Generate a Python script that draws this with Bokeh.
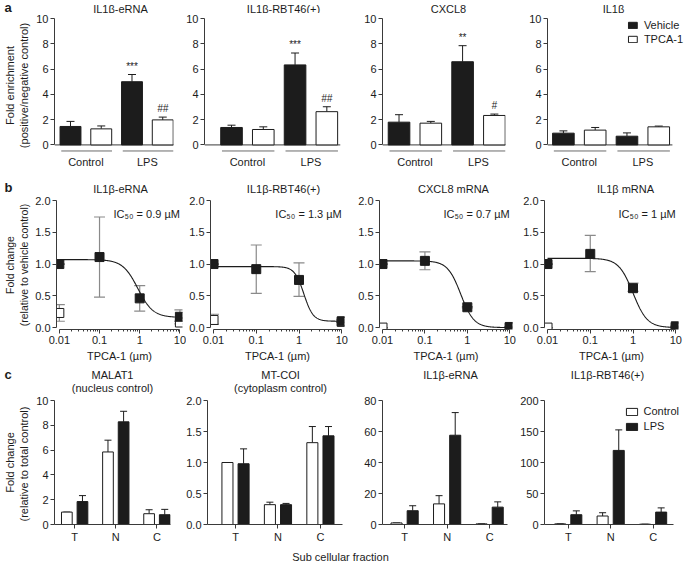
import numpy as np
from bokeh.plotting import figure
from bokeh.layouts import column, row
from bokeh.models import (Range1d, FixedTicker, Whisker, TeeHead, ColumnDataSource,
                          Label, Legend, LegendItem, PrintfTickFormatter)
from bokeh.core.properties import value
from bokeh.embed import file_html
from bokeh.resources import INLINE

FONT = "Liberation Sans"
INK = "#1c1c1c"
AXC = "#3a3a3a"
ERRB = "#8a8a8a"
PAGE_W = 684

# ----------------------------- data : panel a -----------------------------
a_titles = ["IL1β-eRNA", "IL1β-RBT46(+)", "CXCL8", "IL1β"]
a_groups = ["Control", "LPS"]
a_series = ["Vehicle", "TPCA-1"]
a_yticks = [0, 2, 4, 6, 8, 10]

a1_vehicle = [1.46, 5.00]
a1_vehicle_err = [1.86, 5.57]
a1_tpca = [1.27, 1.98]
a1_tpca_err = [1.50, 2.20]
a1_vehicle_sig = ["", "***"]
a1_tpca_sig = ["", "##"]

a2_vehicle = [1.38, 6.33]
a2_vehicle_err = [1.56, 7.27]
a2_tpca = [1.22, 2.63]
a2_tpca_err = [1.43, 3.02]
a2_vehicle_sig = ["", "***"]
a2_tpca_sig = ["", "##"]

a3_vehicle = [1.80, 6.58]
a3_vehicle_err = [2.39, 7.85]
a3_tpca = [1.72, 2.33]
a3_tpca_err = [1.86, 2.44]
a3_vehicle_sig = ["", "**"]
a3_tpca_sig = ["", "#"]

a4_vehicle = [0.93, 0.69]
a4_vehicle_err = [1.11, 0.95]
a4_tpca = [1.17, 1.43]
a4_tpca_err = [1.38, 1.49]
a4_vehicle_sig = ["", ""]
a4_tpca_sig = ["", ""]

# ----------------------------- data : panel b -----------------------------
b_titles = ["IL1β-eRNA", "IL1β-RBT46(+)", "CXCL8 mRNA", "IL1β mRNA"]
b_doses = [0.01, 0.1, 1, 10]
b_ctrl_doses = [0.01, 10]
b_xticks = [0.01, 0.1, 1, 10]
b_xtick_labels = ["0.01", "0.1", "1", "10"]
b_yticks = [0.0, 0.5, 1.0, 1.5, 2.0]

b1_lps = [1.00, 1.11, 0.46, 0.17]
b1_lps_lo = [1.00, 0.48, 0.26, 0.10]
b1_lps_hi = [1.00, 1.74, 0.66, 0.28]
b1_ctrl = [0.23, 0.08]
b1_ctrl_lo = [0.10, 0.06]
b1_ctrl_hi = [0.36, 0.10]

b2_lps = [1.00, 0.92, 0.75, 0.10]
b2_lps_lo = [1.00, 0.54, 0.49, 0.08]
b2_lps_hi = [1.00, 1.30, 1.02, 0.12]
b2_ctrl = [0.12, 0.09]
b2_ctrl_lo = [0.05, 0.08]
b2_ctrl_hi = [0.21, 0.10]

b3_lps = [1.00, 1.05, 0.32, 0.01]
b3_lps_lo = [1.00, 0.91, 0.31, 0.01]
b3_lps_hi = [1.00, 1.19, 0.33, 0.01]
b3_ctrl = [0.00, 0.00]
b3_ctrl_lo = [0.00, 0.00]
b3_ctrl_hi = [0.00, 0.00]

b4_lps = [1.00, 1.16, 0.62, 0.02]
b4_lps_lo = [1.00, 0.88, 0.57, 0.02]
b4_lps_hi = [1.00, 1.45, 0.70, 0.02]
b4_ctrl = [0.00, 0.00]
b4_ctrl_lo = [0.00, 0.00]
b4_ctrl_hi = [0.00, 0.00]

# dose-response fit parameters (IC50 as printed in each panel)
b_fit_top = [1.07, 0.96, 1.05, 1.09]
b_fit_bottom = [0.16, 0.10, 0.00, 0.00]
b_fit_ic50 = [0.9, 1.3, 0.7, 1.0]
b_fit_hill = [2.3, 4.0, 2.8, 2.6]
b_ic50_text = ["0.9", "1.3", "0.7", "1"]

# ----------------------------- data : panel c -----------------------------
c_titles = ["MALAT1", "MT-COI", "IL1β-eRNA", "IL1β-RBT46(+)"]
c_subtitles = ["(nucleus control)", "(cytoplasm control)", "", ""]
c_fractions = ["T", "N", "C"]
c_series = ["Control", "LPS"]

c1_control = [1.00, 5.85, 0.87]
c1_control_err = [1.00, 6.80, 1.19]
c1_lps = [1.85, 8.28, 0.79]
c1_lps_err = [2.33, 9.13, 1.22]
c1_yticks = [0, 2, 4, 6, 8, 10]

c2_control = [1.00, 0.32, 1.32]
c2_control_err = [1.00, 0.36, 1.58]
c2_lps = [0.98, 0.32, 1.43]
c2_lps_err = [1.22, 0.34, 1.58]
c2_yticks = [0.0, 0.5, 1.0, 1.5, 2.0]

c3_control = [1.0, 13.3, 0.4]
c3_control_err = [1.0, 18.6, 0.4]
c3_lps = [8.9, 57.6, 11.2]
c3_lps_err = [12.1, 72.2, 14.6]
c3_yticks = [0, 20, 40, 60, 80]

c4_control = [1.0, 13.7, 0.5]
c4_control_err = [1.0, 19.0, 0.5]
c4_lps = [15.8, 119.5, 20.0]
c4_lps_err = [22.0, 152.6, 26.8]
c4_yticks = [0, 50, 100, 150, 200]


# ----------------------------- layout helpers -----------------------------
def col_layout(frames, inner_left, start=0, right_edge=PAGE_W):
    lefts = [frames[0][0] - start] + [inner_left] * (len(frames) - 1)
    starts = [start] + [frames[i][0] - lefts[i] for i in range(1, len(frames))]
    ends = starts[1:] + [right_edge]
    widths = [e - s for s, e in zip(starts, ends)]
    rights = [w - l - f[1] for w, l, f in zip(widths, lefts, frames)]
    return widths, lefts, rights


def new_fig(width, height, lb, rb, tb, bb, x_range, y_range, x_axis_type="linear"):
    p = figure(width=width, height=height, x_range=x_range, y_range=y_range, title=None,
               x_axis_type=x_axis_type, output_backend="svg", toolbar_location=None, tools="",
               min_border_left=lb, min_border_right=rb, min_border_top=tb, min_border_bottom=bb)
    p.outline_line_color = None
    p.grid.visible = False
    p.background_fill_color = "white"
    p.border_fill_color = "white"
    for ax in p.axis:
        ax.axis_line_color = AXC
        ax.axis_line_width = 1
        ax.major_tick_line_color = AXC
        ax.minor_tick_line_color = None
        ax.major_tick_in = 0
        ax.major_tick_out = 4
        ax.major_label_text_font = FONT
        ax.major_label_text_font_size = "11px"
        ax.major_label_text_color = INK
        ax.major_label_standoff = 2
        ax.axis_label_text_font = FONT
        ax.axis_label_text_font_size = "11px"
        ax.axis_label_text_font_style = "normal"
        ax.axis_label_text_color = INK
        ax.axis_label_standoff = 3
    return p


def strip(height, texts, letter, letter_mid):
    """A full-width text band: panel titles and the panel letter (y measured from its top)."""
    s = figure(width=PAGE_W, height=height, x_range=Range1d(0, PAGE_W), y_range=Range1d(height, 0),
               output_backend="svg", toolbar_location=None, tools="", title=None,
               x_axis_location=None, y_axis_location=None, min_border=0)
    s.outline_line_color = None
    s.grid.visible = False
    for cx, cy, t in texts:
        s.add_layout(Label(x=cx, y=cy, text=t, text_font=FONT, text_font_size="11px",
                           text_color=INK, text_align="center", text_baseline="middle"))
    s.add_layout(Label(x=4, y=letter_mid, text=letter, text_font=FONT, text_font_size="13px",
                       text_font_style="bold", text_color=INK, text_align="left",
                       text_baseline="middle"))
    return s


# ----------------------------- row a -----------------------------
A_FRAMES = [(50, 123), (204, 136), (382, 123), (547, 137)]
A_XR = [(-0.52, 3.35), (-0.85, 3.43), (-0.52, 3.35), (-0.50, 3.81)]
A_TITLE_X = [120, 283, 448, 613]
A_STRIP = 13
A_H, A_TOP, A_BOT = 159, 5, 20
a_w, a_l, a_r = col_layout(A_FRAMES, 30)
a_data = [
    (a1_vehicle, a1_vehicle_err, a1_tpca, a1_tpca_err, a1_vehicle_sig, a1_tpca_sig),
    (a2_vehicle, a2_vehicle_err, a2_tpca, a2_tpca_err, a2_vehicle_sig, a2_tpca_sig),
    (a3_vehicle, a3_vehicle_err, a3_tpca, a3_tpca_err, a3_vehicle_sig, a3_tpca_sig),
    (a4_vehicle, a4_vehicle_err, a4_tpca, a4_tpca_err, a4_vehicle_sig, a4_tpca_sig),
]
row_a = []
for k in range(4):
    veh, veh_e, tp, tp_e, vs, ts = a_data[k]
    p = new_fig(a_w[k], A_H, a_l[k], a_r[k], A_TOP, A_BOT, Range1d(*A_XR[k]), Range1d(-0.6, 10))
    ng = len(a_groups)
    src_v = ColumnDataSource(dict(x=[2 * g for g in range(ng)], top=veh, err=veh_e, sig=vs))
    src_t = ColumnDataSource(dict(x=[2 * g + 1 for g in range(ng)], top=tp, err=tp_e, sig=ts))
    last = 2 * ng - 1
    # baseline at y = 0 and the group underlines
    p.segment(x0=[A_XR[k][0]], y0=[0], x1=[last + 0.43], y1=[0], line_color=AXC, line_width=1)
    p.segment(x0=[2 * g - 0.3 for g in range(ng)], y0=[-0.48] * ng,
              x1=[2 * g + 1.35 for g in range(ng)], y1=[-0.48] * ng,
              line_color="#6a6a6a", line_width=1)
    rv = p.vbar(x="x", top="top", bottom=0, width=0.68, source=src_v,
                fill_color=INK, line_color=INK, line_width=1)
    rt = p.vbar(x="x", top="top", bottom=0, width=0.68, source=src_t,
                fill_color="white", line_color=INK, line_width=1)
    for src in (src_v, src_t):
        p.add_layout(Whisker(base="x", lower="top", upper="err", source=src, line_color=INK,
                             line_width=1, lower_head=None,
                             upper_head=TeeHead(size=8, line_color=INK, line_width=1)))
    p.text(x="x", y="err", text="sig", source=src_v, text_align="center", text_baseline="bottom",
           y_offset=-3, text_font=value(FONT), text_font_size="10px", text_color=INK)
    p.text(x="x", y="err", text="sig", source=src_t, text_align="center", text_baseline="bottom",
           y_offset=-3, text_font=value(FONT), text_font_size="10px", text_color=INK,
           text_font_style="italic")
    xa = p.xaxis[0]
    xa.ticker = FixedTicker(ticks=[2 * g + 0.5 for g in range(ng)])
    xa.major_label_overrides = {2 * g + 0.5: a_groups[g] for g in range(ng)}
    xa.axis_line_color = None
    xa.major_tick_line_color = None
    xa.major_tick_out = 0
    xa.major_label_standoff = 3
    ya = p.yaxis[0]
    ya.ticker = FixedTicker(ticks=a_yticks)
    ya.bounds = (a_yticks[0], a_yticks[-1])
    if k == 0:
        ya.axis_label = "Fold enrichment\n(positive/negative control)"
    if k == 3:
        leg = Legend(items=[LegendItem(label=a_series[0], renderers=[rv]),
                            LegendItem(label=a_series[1], renderers=[rt])],
                     location="top_right", border_line_color=None, background_fill_alpha=0,
                     padding=0, margin=1, spacing=2, glyph_width=11, glyph_height=8,
                     label_text_font=FONT, label_text_font_size="11px", label_text_color=INK,
                     label_standoff=6, label_height=11)
        p.add_layout(leg)
    row_a.append(p)
strip_a = strip(A_STRIP, [(A_TITLE_X[k], 8, a_titles[k]) for k in range(4)], "a", 6.5)

# ----------------------------- row b -----------------------------
B_FRAMES = [(49, 133), (210, 134), (379, 133), (544, 134)]
B_XR = (0.0085, 11.6)
B_TITLE_X = [120, 283, 453, 625]
B_STRIP = 23
B_H, B_TOP, B_BOT = 169, 5, 35
b_w, b_l, b_r = col_layout(B_FRAMES, 24)
b_data = [
    (b1_lps, b1_lps_lo, b1_lps_hi, b1_ctrl, b1_ctrl_lo, b1_ctrl_hi),
    (b2_lps, b2_lps_lo, b2_lps_hi, b2_ctrl, b2_ctrl_lo, b2_ctrl_hi),
    (b3_lps, b3_lps_lo, b3_lps_hi, b3_ctrl, b3_ctrl_lo, b3_ctrl_hi),
    (b4_lps, b4_lps_lo, b4_lps_hi, b4_ctrl, b4_ctrl_lo, b4_ctrl_hi),
]
b_minor = [m * 10.0 ** e for e in (-2, -1, 0) for m in range(2, 10)]
row_b = []
for k in range(4):
    lps, lo, hi, ct, ctlo, cthi = b_data[k]
    p = new_fig(b_w[k], B_H, b_l[k], b_r[k], B_TOP, B_BOT, Range1d(*B_XR),
                Range1d(-0.03, 2.0), x_axis_type="log")
    xs = np.logspace(np.log10(b_doses[0]), np.log10(b_doses[-1]), 300)
    ys = b_fit_bottom[k] + (b_fit_top[k] - b_fit_bottom[k]) / (1 + (xs / b_fit_ic50[k]) ** b_fit_hill[k])
    p.line(xs, ys, line_color=INK, line_width=1.1)
    s_l = ColumnDataSource(dict(x=b_doses, y=lps, lo=lo, hi=hi))
    s_c = ColumnDataSource(dict(x=b_ctrl_doses, y=ct, lo=ctlo, hi=cthi))
    for src in (s_c, s_l):
        w = Whisker(base="x", lower="lo", upper="hi", source=src, line_color=ERRB, line_width=1.2,
                    lower_head=TeeHead(size=11, line_color=ERRB, line_width=1.2),
                    upper_head=TeeHead(size=11, line_color=ERRB, line_width=1.2))
        w.level = "underlay"
        p.add_layout(w)
    p.scatter(x="x", y="y", source=s_c, marker="square", size=9, fill_color="white",
              line_color=INK, line_width=1)
    p.scatter(x="x", y="y", source=s_l, marker="square", size=9, fill_color=INK,
              line_color=INK, line_width=1)
    p.add_layout(Label(x=b_doses[-1], y=1.78, x_units="data", y_units="data",
                       text="IC₅₀ = " + b_ic50_text[k] + " µM", text_font=FONT,
                       text_font_size="11px", text_color=INK, text_align="right",
                       text_baseline="middle"))
    xa = p.xaxis[0]
    xa.ticker = FixedTicker(ticks=b_xticks, minor_ticks=b_minor)
    xa.major_label_overrides = dict(zip(b_xticks, b_xtick_labels))
    xa.minor_tick_line_color = AXC
    xa.minor_tick_in = 0
    xa.minor_tick_out = 2
    xa.bounds = (b_xticks[0], b_xticks[-1])
    xa.axis_label = "TPCA-1 (µm)"
    ya = p.yaxis[0]
    ya.ticker = FixedTicker(ticks=b_yticks)
    ya.formatter = PrintfTickFormatter(format="%.1f")
    ya.bounds = (b_yticks[0], b_yticks[-1])
    if k == 0:
        ya.axis_label = "Fold change\n(relative to vehicle control)"
        ya.axis_label_text_font_size = "10.5px"
        ya.axis_label_standoff = 2
    row_b.append(p)
strip_b = strip(B_STRIP, [(B_TITLE_X[k], 16, b_titles[k]) for k in range(4)], "b", 15)

# ----------------------------- row c -----------------------------
C_FRAMES = [(50, 120), (207, 135), (382, 125), (544, 140)]
C_XR = [(-0.49, 2.33), (-0.66, 2.52), (-0.52, 2.42), (-0.56, 2.74)]
C_AXIS_END = [2.33, 2.52, 2.42, 2.48]
C_TITLE_X = [112, 280, 450, 607]
C_STRIP = 31
C_H, C_TOP, C_BOT = 150, 5, 19
c_w, c_l, c_r = col_layout(C_FRAMES, 30)
c_data = [
    (c1_control, c1_control_err, c1_lps, c1_lps_err, c1_yticks, "%d"),
    (c2_control, c2_control_err, c2_lps, c2_lps_err, c2_yticks, "%.1f"),
    (c3_control, c3_control_err, c3_lps, c3_lps_err, c3_yticks, "%d"),
    (c4_control, c4_control_err, c4_lps, c4_lps_err, c4_yticks, "%d"),
]
row_c = []
for k in range(4):
    cv, ce, lv, le, yt, fmt = c_data[k]
    p = new_fig(c_w[k], C_H, c_l[k], c_r[k], C_TOP, C_BOT, Range1d(*C_XR[k]),
                Range1d(yt[0], yt[-1]))
    nf = len(c_fractions)
    s_c = ColumnDataSource(dict(x=[i - 0.19 for i in range(nf)], top=cv, err=ce))
    s_l = ColumnDataSource(dict(x=[i + 0.19 for i in range(nf)], top=lv, err=le))
    rc = p.vbar(x="x", top="top", bottom=0, width=0.26, source=s_c, fill_color="white",
                line_color=INK, line_width=1)
    rl = p.vbar(x="x", top="top", bottom=0, width=0.26, source=s_l, fill_color=INK,
                line_color=INK, line_width=1)
    for src in (s_c, s_l):
        p.add_layout(Whisker(base="x", lower="top", upper="err", source=src, line_color=INK,
                             line_width=1, lower_head=None,
                             upper_head=TeeHead(size=7, line_color=INK, line_width=1)))
    xa = p.xaxis[0]
    xa.ticker = FixedTicker(ticks=list(range(nf)))
    xa.major_label_overrides = {i: c_fractions[i] for i in range(nf)}
    xa.bounds = (C_XR[k][0], C_AXIS_END[k])
    ya = p.yaxis[0]
    ya.ticker = FixedTicker(ticks=yt)
    ya.formatter = PrintfTickFormatter(format=fmt)
    if k == 0:
        ya.axis_label = "Fold change\n(relative to total  control)"
    if k == 3:
        leg = Legend(items=[LegendItem(label=c_series[0], renderers=[rc]),
                            LegendItem(label=c_series[1], renderers=[rl])],
                     location="top_right", border_line_color=None, background_fill_alpha=0,
                     padding=0, margin=5, spacing=3, glyph_width=14, glyph_height=9,
                     label_text_font=FONT, label_text_font_size="11px", label_text_color=INK,
                     label_standoff=5, label_height=12)
        p.add_layout(leg)
    row_c.append(p)
c_strip_texts = [(C_TITLE_X[k], 10, c_titles[k]) for k in range(4)]
c_strip_texts += [(C_TITLE_X[k], 23, c_subtitles[k]) for k in range(4) if c_subtitles[k]]
strip_c = strip(C_STRIP, c_strip_texts, "c", 10)

# ----------------------------- shared x label -----------------------------
pb = figure(width=PAGE_W, height=18, x_range=Range1d(0, 1), y_range=Range1d(0, 1), title=None,
            output_backend="svg", toolbar_location=None, tools="",
            x_axis_location=None, y_axis_location=None, min_border=0)
pb.outline_line_color = None
pb.grid.visible = False
pb.add_layout(Label(x=340, y=7, x_units="screen", y_units="screen", text="Sub cellular fraction",
                    text_font=FONT, text_font_size="11px", text_color=INK,
                    text_align="center", text_baseline="middle"))

layout = column(strip_a, row(*row_a), strip_b, row(*row_b), strip_c, row(*row_c), pb)
open("out.html", "w").write(file_html(layout, INLINE))
